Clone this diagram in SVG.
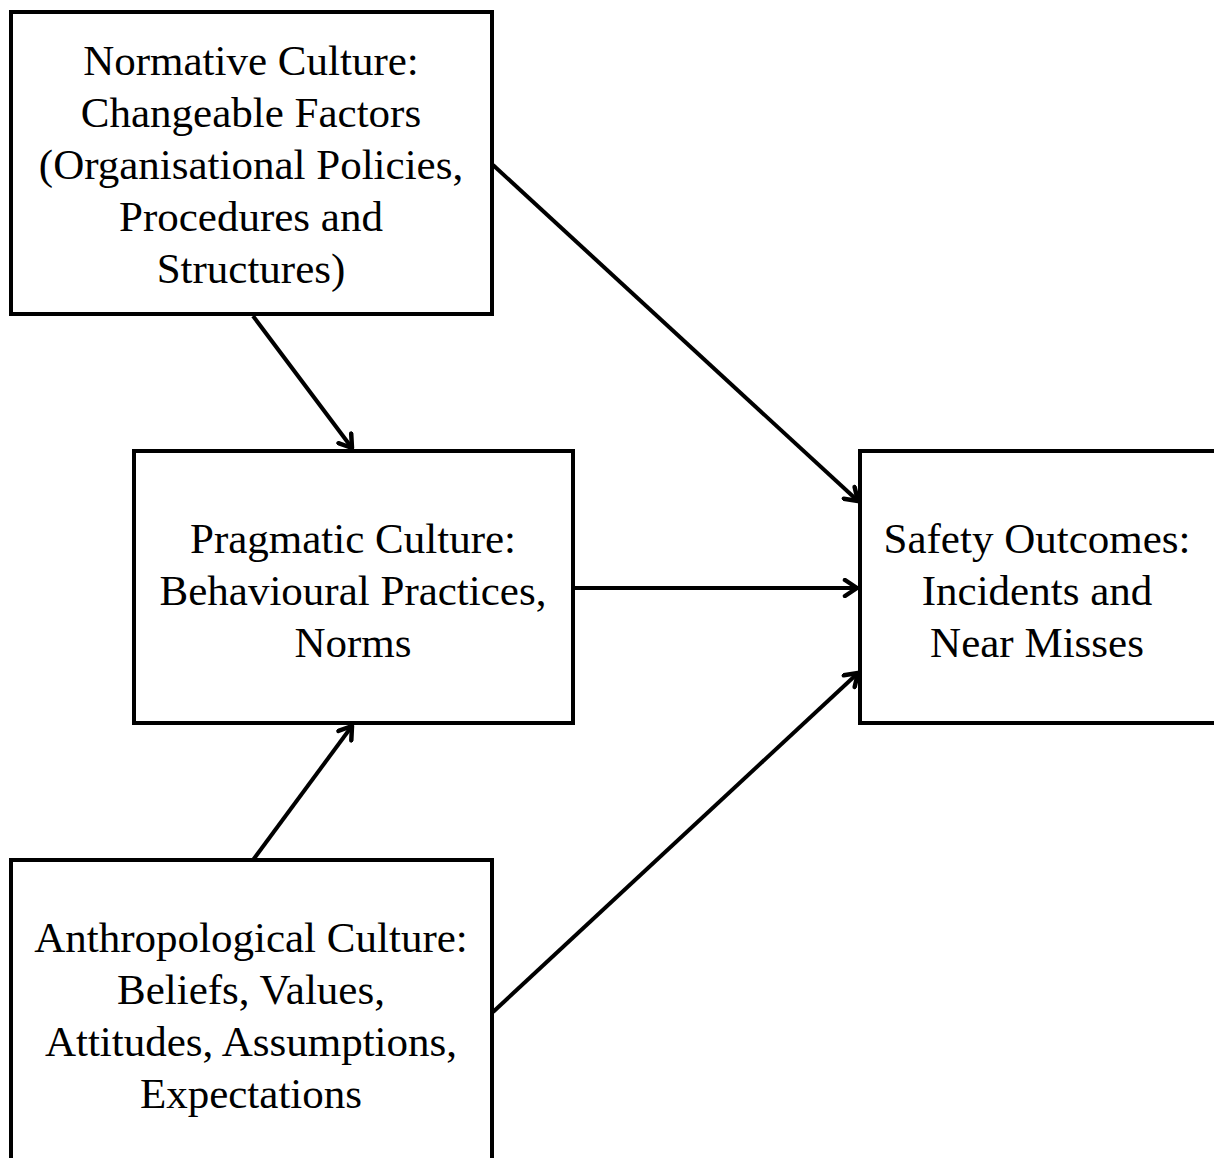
<svg xmlns="http://www.w3.org/2000/svg" width="1214" height="1158" viewBox="0 0 1214 1158">
<style>
.box{fill:#fff;stroke:#000;stroke-width:4}
.t{font-family:"Liberation Serif","Times New Roman",serif;font-size:43px;fill:#000;text-anchor:middle}
.c{stroke:#000;stroke-width:4;fill:none;marker-end:url(#ah)}
</style>
<defs>
<marker id="ah" viewBox="0 0 20 20" refX="17" refY="10" markerWidth="20" markerHeight="20" markerUnits="userSpaceOnUse" orient="auto">
<path d="M5,2 L17,10 L5,18" fill="none" stroke="#000" stroke-width="4.5" stroke-linecap="round" stroke-linejoin="round"/>
</marker>
</defs>
<rect width="1214" height="1158" fill="#fff"/>
<g id="connectors">
<line class="c" x1="253" y1="316" x2="352" y2="448"/>
<line class="c" x1="493" y1="165" x2="858" y2="501"/>
<line class="c" x1="575" y1="588" x2="857" y2="588"/>
<line class="c" x1="253" y1="860" x2="352" y2="726"/>
<line class="c" x1="493" y1="1012" x2="858" y2="673"/>
</g>
<g id="normative">
<rect class="box" x="11" y="12" width="481" height="302"/>
<text class="t" x="251" y="75">Normative Culture:</text>
<text class="t" x="251" y="127">Changeable Factors</text>
<text class="t" x="251" y="179">(Organisational Policies,</text>
<text class="t" x="251" y="231">Procedures and</text>
<text class="t" x="251" y="283">Structures)</text>
</g>
<g id="pragmatic">
<rect class="box" x="134" y="451" width="439" height="272"/>
<text class="t" x="353" y="553">Pragmatic Culture:</text>
<text class="t" x="353" y="605">Behavioural Practices,</text>
<text class="t" x="353" y="657">Norms</text>
</g>
<g id="safety">
<rect class="box" x="860" y="451" width="360" height="272"/>
<text class="t" x="1037" y="553">Safety Outcomes:</text>
<text class="t" x="1037" y="605">Incidents and</text>
<text class="t" x="1037" y="657">Near Misses</text>
</g>
<g id="anthropological">
<rect class="box" x="11" y="860" width="481" height="310"/>
<text class="t" x="251" y="952">Anthropological Culture:</text>
<text class="t" x="251" y="1004">Beliefs, Values,</text>
<text class="t" x="251" y="1056">Attitudes, Assumptions,</text>
<text class="t" x="251" y="1108">Expectations</text>
</g>
</svg>
